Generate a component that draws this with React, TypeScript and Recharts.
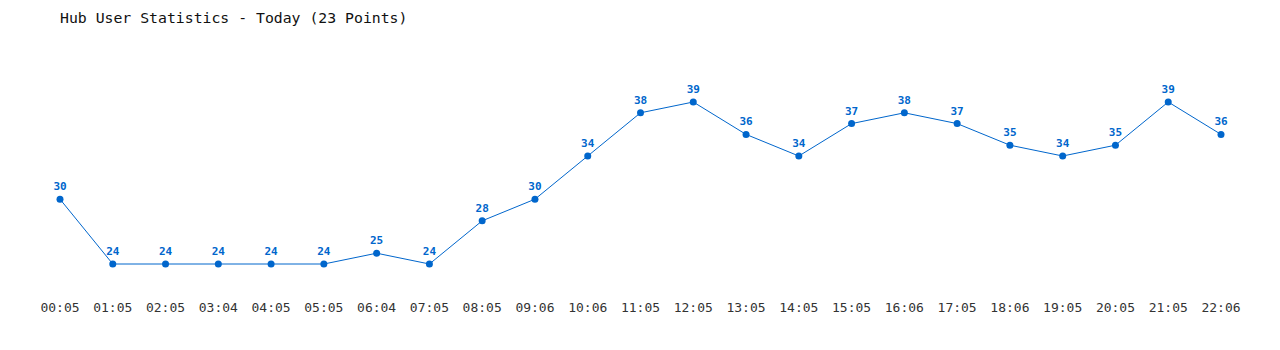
import { LineChart, Line, XAxis, YAxis, LabelList } from 'recharts';

const times = [
  '00:05', '01:05', '02:05', '03:04', '04:05', '05:05', '06:04', '07:05',
  '08:05', '09:06', '10:06', '11:05', '12:05', '13:05', '14:05', '15:05',
  '16:06', '17:05', '18:06', '19:05', '20:05', '21:05', '22:06',
];
const users = [
  30, 24, 24, 24, 24, 24, 25, 24, 28, 30, 34, 38, 39, 36, 34, 37, 38, 37, 35,
  34, 35, 39, 36,
];

const data = times.map((t, i) => ({ time: t, users: users[i] }));

const mono = '"DejaVu Sans Mono", "Liberation Mono", monospace';
const blue = '#0066cc';

export default function App() {
  return (
    <div style={{ position: 'absolute', left: 0, top: 0, width: 1280, height: 350, background: '#fff' }}>
      <div
        style={{
          position: 'absolute',
          left: 60,
          top: 9,
          fontFamily: mono,
          fontSize: 14.8,
          color: '#111',
          whiteSpace: 'pre',
        }}
      >
        Hub User Statistics - Today (23 Points)
      </div>
      <LineChart
        width={1280}
        height={350}
        data={data}
        margin={{ top: 69.6, right: 59, left: 60, bottom: 34.4 }}
      >
        <XAxis
          dataKey='time'
          interval={0}
          axisLine={false}
          tickLine={false}
          tickSize={6}
          tickMargin={11}
          height={30}
          tick={{ fontFamily: mono, fontSize: 13, fill: '#333' }}
        />
        <YAxis hide domain={[22, 42]} />
        <Line
          type='linear'
          dataKey='users'
          stroke={blue}
          strokeWidth={1}
          dot={{ r: 3.5, fill: blue, stroke: blue, strokeWidth: 0 }}
          isAnimationActive={false}
        >
          <LabelList
            dataKey='users'
            position='top'
            offset={9}
            style={{ fontFamily: mono, fontSize: 11, fontWeight: 'bold', fill: blue }}
          />
        </Line>
      </LineChart>
    </div>
  );
}
